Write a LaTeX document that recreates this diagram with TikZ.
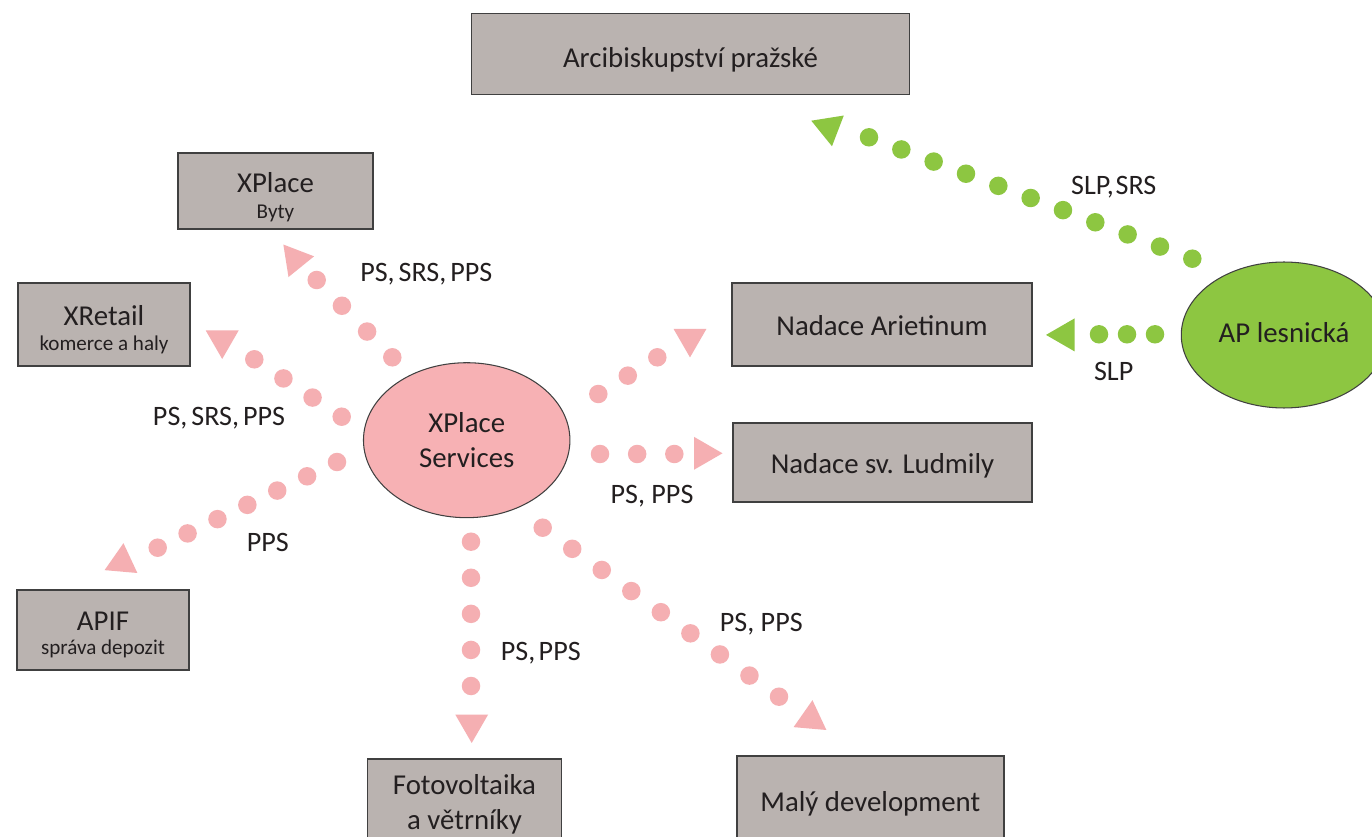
\documentclass[tikz,border=0pt]{standalone}
\usepackage{fontspec}
\setmainfont{Carlito}
\usetikzlibrary{calc,shapes.geometric}
\definecolor{boxgray}{HTML}{BAB3B0}
\definecolor{boxline}{HTML}{404040}
\definecolor{pinkfill}{HTML}{F7B1B4}
\definecolor{pinkdot}{HTML}{F5AFB2}
\definecolor{greenfill}{HTML}{8DC641}
\definecolor{txt}{HTML}{231F20}
\newcommand\dotrow[4]{\foreach \i in {0,...,#3}{\fill[#4] ($(#1)!\i/#3!(#2)$) circle[radius=0.185cm];}}
\newcommand\twolines[3]{\vtop{\baselineskip=#3\relax\lineskiplimit=-\maxdimen\halign{\hfil##\hfil\cr #1\cr {\fontsize{12}{12}\selectfont #2}\cr}}}
\tikzset{
  box/.style={draw=boxline, line width=0.85pt, fill=boxgray, inner sep=0pt, text=txt,
    font=\fontsize{16.4}{20}\selectfont},
  oneline/.style={text height=16.5pt, text depth=4pt},
  oval/.style={ellipse, draw=boxline, line width=0.6pt, inner sep=0pt, text=txt,
    font=\fontsize{16.4}{20}\selectfont, align=center},
  lbl/.style={font=\fontsize{16}{19}\selectfont, text=txt, anchor=base, inner sep=0pt},
  head/.style={regular polygon, regular polygon sides=3, minimum size=0.76cm, inner sep=0pt, draw=none},
  pinkhead/.style={head, fill=pinkdot},
  greenhead/.style={head, fill=greenfill},
}
\begin{document}
\begin{tikzpicture}[x=0.02cm, y=-0.02cm]
\clip (0,0) rectangle (1372,837);
\fill[white] (0,0) rectangle (1372,837);

% boxes
\node[box, text height=19.8pt, text depth=4pt, minimum width=8.752cm, minimum height=1.62cm] (arc) at (690.5,53.8) {Arcibiskupství pražské};
\node[box, text height=10pt, text depth=8.06pt, minimum width=3.9cm, minimum height=1.52cm] (xplace) at (275.5,191)
  {\twolines{XPlace}{Byty}{14.63pt}};
\node[box, text height=10pt, text depth=8.63pt, minimum width=3.44cm, minimum height=1.66cm] (xretail) at (104,324.5)
  {\twolines{XRetail}{komerce a haly}{13.9pt}};
\node[box, text height=10pt, text depth=9.2pt, minimum width=3.44cm, minimum height=1.6cm] (apif) at (103,630)
  {\twolines{APIF}{správa depozit}{13.66pt}};
\node[box, oneline, minimum width=6.0cm, minimum height=1.66cm] (arietinum) at (882,324.5) {Nadace Arietinum};
\node[box, oneline, minimum width=5.98cm, minimum height=1.58cm] (ludmila) at (882.5,462.5) {Nadace sv. Ludmily};
\node[box, align=center, minimum width=3.89cm, minimum height=1.8cm] (foto) at (464.5,804) {Fotovoltaika\\a větrníky};
\node[box, oneline, minimum width=5.34cm, minimum height=1.8cm] (maly) at (870.3,801) {Malý development};

% ellipses
\node[oval, fill=pinkfill, minimum width=4.13cm, minimum height=3.1cm] (svc) at (466.7,440.2) {XPlace\\Services};
\node[oval, fill=greenfill, text height=12.8pt, text depth=4pt, minimum width=4.11cm, minimum height=2.92cm] (ap) at (1284,335) {AP lesnická};

% arrow heads
\node[pinkhead, rotate=39] (hxplace) at (295.3,259.3) {};
\node[pinkhead, rotate=180] (hxretail) at (222.2,340.0) {};
\node[pinkhead, rotate=-5] (hapif) at (121.8,562.1) {};
\node[pinkhead, rotate=180] (hariet) at (690,338.4) {};
\node[pinkhead, rotate=-90] (hludm) at (703.5,453.3) {};
\node[pinkhead, rotate=180] (hfoto) at (471.7,724) {};
\node[pinkhead, rotate=-5] (hmaly) at (810.8,719.1) {};
\node[greenhead, rotate=69] (harc) at (829,127.5) {};
\node[greenhead, rotate=90] (hslp) at (1065,334.9) {};

% dotted connectors (first and last dot of each row)
\coordinate (a1) at (392.3,357.3);  \coordinate (b1) at (316.7,280);
\coordinate (a2) at (341.7,416.7);  \coordinate (b2) at (254.3,359.3);
\coordinate (a3) at (337,462);      \coordinate (b3) at (157.7,547.7);
\coordinate (a4) at (598.3,394);    \coordinate (b4) at (657.3,357.3);
\coordinate (a5) at (600,454);      \coordinate (b5) at (674.3,454);
\coordinate (a6) at (471,541.7);    \coordinate (b6) at (471,686);
\coordinate (a7) at (542.7,527.7);  \coordinate (b7) at (779,696.7);
\coordinate (a8) at (1192.3,258.7); \coordinate (b8) at (869,137.3);
\coordinate (a9) at (1155,334.3);   \coordinate (b9) at (1099,334.3);
\dotrow{a1}{b1}{3}{pinkdot}
\dotrow{a2}{b2}{3}{pinkdot}
\dotrow{a3}{b3}{6}{pinkdot}
\dotrow{a4}{b4}{2}{pinkdot}
\dotrow{a5}{b5}{2}{pinkdot}
\dotrow{a6}{b6}{4}{pinkdot}
\dotrow{a7}{b7}{8}{pinkdot}
\dotrow{a8}{b8}{10}{greenfill}
\dotrow{a9}{b9}{2}{greenfill}

% labels
\node[lbl] (l1) at (426.3,281.7) {PS,\hspace{0.14em}SRS,\hspace{0.14em}PPS};
\node[lbl] (l2) at (219,425.7) {PS,\hspace{0.14em}SRS,\hspace{0.14em}PPS};
\node[lbl] (l3) at (267.8,551.7) {PPS};
\node[lbl] (l4) at (652,503.3) {PS, PPS};
\node[lbl] (l5) at (540.8,660) {PS,\hspace{0.12em}PPS};
\node[lbl] (l6) at (761.3,631.7) {PS, PPS};
\node[lbl] (l7) at (1113.8,194.3) {SLP,\hspace{0.06em}SRS};
\node[lbl] (l8) at (1113.7,381) {SLP};
\end{tikzpicture}
\end{document}
